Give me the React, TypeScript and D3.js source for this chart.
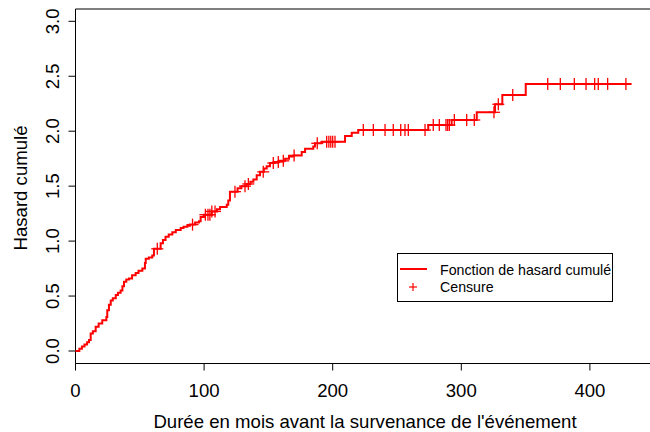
import React from "react";
import * as d3 from "d3";

// Step times (months) and cumulative hazard after each step
const stepTimes = [0, 3, 5, 7, 9, 10.5, 11.8, 13.5, 15.7, 18, 20.8, 24, 24.7, 26, 27.4, 29, 31.3, 33, 35.1, 36.5, 37.7, 39.5, 41.6, 44, 46.8, 49, 52, 54, 54.6, 57, 59.7, 61, 66.2, 68, 70, 72.5, 75.3, 78, 81.8, 84, 87, 89, 93, 96, 97.3, 100, 106, 110, 112.4, 117.6, 118.8, 120.1, 126, 129, 133, 136, 138.3, 140.9, 143.5, 146.5, 148.7, 151.2, 155, 158.5, 163, 166, 169.4, 175.9, 178.5, 184.9, 186.2, 191.4, 209.6, 214.8, 219.9, 274.3, 292.5, 312, 326.2, 331.9, 350.1];
const hazardValues = [0, 0.02, 0.04, 0.06, 0.08, 0.1, 0.16, 0.18, 0.22, 0.25, 0.28, 0.31, 0.37, 0.42, 0.46, 0.48, 0.51, 0.53, 0.55, 0.59, 0.63, 0.65, 0.66, 0.69, 0.71, 0.73, 0.75, 0.8, 0.84, 0.85, 0.87, 0.93, 0.98, 1.01, 1.04, 1.06, 1.08, 1.1, 1.12, 1.13, 1.14, 1.15, 1.17, 1.18, 1.22, 1.24, 1.27, 1.29, 1.31, 1.33, 1.37, 1.45, 1.48, 1.5, 1.52, 1.54, 1.56, 1.6, 1.63, 1.66, 1.68, 1.71, 1.72, 1.73, 1.75, 1.77, 1.78, 1.81, 1.84, 1.86, 1.89, 1.905, 1.956, 1.986, 2.01, 2.056, 2.102, 2.172, 2.245, 2.329, 2.43];
const endTime = 432;

// Censoring times
const censorTimes = [63.6, 91, 101, 103, 104.5, 106, 108.5, 124, 131.8, 134.4, 146, 153.8, 157.7, 161.6, 170, 188, 195.3, 197, 198.5, 200, 201.8, 223.8, 231.6, 240.7, 247.1, 252.9, 256.2, 258.8, 271.8, 278.2, 282.9, 288.1, 289.4, 290.7, 294.6, 304.2, 310.1, 325.4, 328.8, 340, 367.2, 377, 387.9, 397, 403.7, 406.5, 413.8, 428];

const xTicks = [0, 100, 200, 300, 400];
const yTicks = [0, 0.5, 1, 1.5, 2, 2.5, 3];
const xLabel = "Durée en mois avant la survenance de l'événement";
const yLabel = "Hasard cumulé";
const legendLabels = ["Fonction de hasard cumulé", "Censure"];

const W = 650;
const H = 432;
const FONT = "'Liberation Sans', Arial, Helvetica, sans-serif";
const FS = 18.6;

export default function App() {
  const x = d3.scaleLinear().domain([0, 400]).range([75.5, 589.9]);
  const y = d3.scaleLinear().domain([0, 3]).range([351, 21.3]);

  const pts: [number, number][] = stepTimes.map((t, i) => [t, hazardValues[i]]);
  pts.push([endTime, hazardValues[hazardValues.length - 1]]);
  const line = d3
    .line<[number, number]>()
    .x((d) => x(d[0]))
    .y((d) => y(d[1]))
    .curve(d3.curveStepAfter);

  const bis = d3.bisector((t: number) => t).right;
  const hAt = (t: number) => hazardValues[Math.max(0, bis(stepTimes, t) - 1)];

  const boxLeft = 75.5;
  const boxTop = 9;
  const boxBottom = 363.5;
  const red = "#ff0000";
  const plusArm = 6;

  return (
    <div style={{ position: "absolute", left: 0, top: 0 }}>
      <svg width={W} height={H} style={{ display: "block", background: "#fff" }}>
        {/* box */}
        <line x1={boxLeft} x2={W + 10} y1={boxTop} y2={boxTop} stroke="#000" strokeWidth={1} />
        <line x1={boxLeft} x2={W + 10} y1={boxBottom} y2={boxBottom} stroke="#000" strokeWidth={1} />
        <line x1={boxLeft} x2={boxLeft} y1={boxTop} y2={boxBottom} stroke="#000" strokeWidth={1} />

        {/* x axis ticks */}
        {xTicks.map((t) => (
          <g key={"xt" + t}>
            <line x1={x(t)} x2={x(t)} y1={boxBottom} y2={boxBottom + 7} stroke="#000" strokeWidth={1} />
            <text x={x(t)} y={397} textAnchor="middle" fontFamily={FONT} fontSize={FS} fill="#000">
              {t}
            </text>
          </g>
        ))}
        {/* y axis ticks */}
        {yTicks.map((t) => (
          <g key={"yt" + t}>
            <line x1={boxLeft - 7} x2={boxLeft} y1={y(t)} y2={y(t)} stroke="#000" strokeWidth={1} />
            <text
              transform={`translate(58.5,${y(t)}) rotate(-90)`}
              textAnchor="middle"
              fontFamily={FONT}
              fontSize={FS}
              fill="#000"
            >
              {t.toFixed(1)}
            </text>
          </g>
        ))}

        {/* axis labels */}
        <text x={365} y={428} textAnchor="middle" fontFamily={FONT} fontSize={FS} fill="#000">
          {xLabel}
        </text>
        <text
          transform={`translate(26.5,188) rotate(-90)`}
          textAnchor="middle"
          fontFamily={FONT}
          fontSize={FS}
          fill="#000"
        >
          {yLabel}
        </text>

        {/* curve */}
        <path d={line(pts) || ""} fill="none" stroke={red} strokeWidth={2} />

        {/* censors */}
        {censorTimes.map((t, i) => {
          const cx = x(t);
          const cy = y(hAt(t));
          return (
            <g key={"c" + i} stroke={red} strokeWidth={1.3}>
              <line x1={cx - plusArm} x2={cx + plusArm} y1={cy} y2={cy} />
              <line x1={cx} x2={cx} y1={cy - plusArm} y2={cy + plusArm} />
            </g>
          );
        })}

        {/* legend */}
        <rect x={397.5} y={253.5} width={215} height={48} fill="#fff" stroke="#000" strokeWidth={1} />
        <line x1={400} x2={427} y1={269} y2={269} stroke={red} strokeWidth={2} />
        <g stroke={red} strokeWidth={1.2}>
          <line x1={409} x2={417} y1={287} y2={287} />
          <line x1={413} x2={413} y1={283} y2={291} />
        </g>
        <text x={440} y={274.5} fontFamily={FONT} fontSize={14.2} fill="#000">
          {legendLabels[0]}
        </text>
        <text x={440} y={292} fontFamily={FONT} fontSize={14.2} fill="#000">
          {legendLabels[1]}
        </text>
      </svg>
    </div>
  );
}
